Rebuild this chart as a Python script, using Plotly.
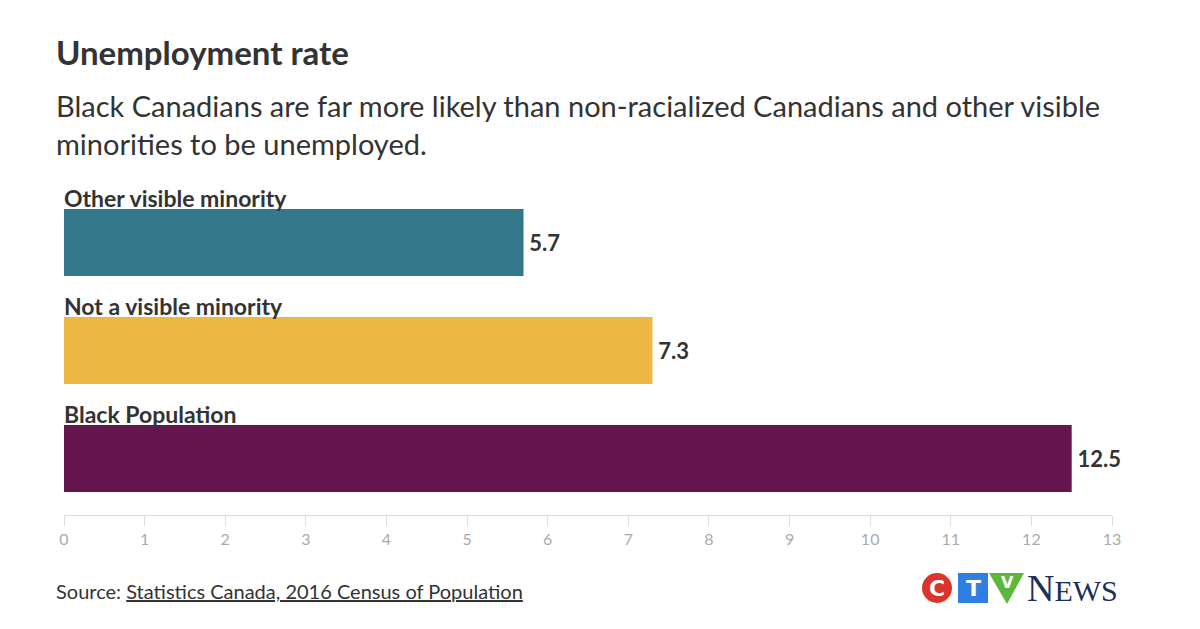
import plotly.graph_objects as go

categories = ["Black Population", "Not a visible minority", "Other visible minority"]
values = [12.5, 7.3, 5.7]
colors = ["#65154e", "#edb841", "#33788a"]
x_ticks = list(range(0, 14))

FONT = "Lato, 'Source Sans Pro', sans-serif"
OX, OY = 8, 8  # page body margin
W, H = 1192, 621
# target screen coordinates of the plot area
SL, SR, ST, SB = 64, 1112, 180, 515
L, T = SL - OX, ST - OY
R = W - (SR - OX)
B = H - (SB - OY)
PW, PH = SR - SL, SB - ST

def px(x):
    return (x - SL) / PW

def py(y):
    return (SB - y) / PH

fig = go.Figure()
fig.add_trace(go.Bar(
    y=list(range(len(categories))), x=values, orientation="h",
    marker=dict(color=colors, line=dict(width=0)), width=0.62,
    text=[f"\u2009<b>{v}</b>" for v in values], textposition="outside",
    textfont=dict(family=FONT, size=22, color="#333333"),
    cliponaxis=False, hoverinfo="skip",
))

annotations = []
for i, c in enumerate(categories):
    annotations.append(dict(x=0, y=i + 0.31, xref="x", yref="y", xanchor="left", yanchor="bottom",
                            text=f"<b>{c}</b>", showarrow=False, xshift=-2, yshift=-5,
                            font=dict(family=FONT, size=23, color="#333333")))

annotations += [
    dict(x=px(54), y=py(52), xref="paper", yref="paper", xanchor="left", yanchor="middle",
         text="<b>Unemployment rate</b>", showarrow=False,
         font=dict(family=FONT, size=33, color="#333333")),
    dict(x=px(54), y=py(106), xref="paper", yref="paper", xanchor="left", yanchor="middle",
         text="Black Canadians are far more likely than non-racialized Canadians and other visible",
         showarrow=False, font=dict(family=FONT, size=29, color="#333333")),
    dict(x=px(54), y=py(143), xref="paper", yref="paper", xanchor="left", yanchor="middle",
         text="minorities to be unemployed.",
         showarrow=False, font=dict(family=FONT, size=29, color="#333333")),
    dict(x=px(54), y=py(591), xref="paper", yref="paper", xanchor="left", yanchor="middle",
         text="Source: <u>Statistics Canada, 2016 Census of Population</u>",
         showarrow=False, font=dict(family=FONT, size=20, color="#333333")),
    # logo letters
    dict(x=px(937), y=py(588), xref="paper", yref="paper", xanchor="center", yanchor="middle",
         text="<b>C</b>", showarrow=False, font=dict(family="DejaVu Sans", size=22, color="white")),
    dict(x=px(973), y=py(588), xref="paper", yref="paper", xanchor="center", yanchor="middle",
         text="<b>T</b>", showarrow=False, font=dict(family="DejaVu Sans", size=22, color="white")),
    dict(x=px(1007), y=py(582), xref="paper", yref="paper", xanchor="center", yanchor="middle",
         text="<b>V</b>", showarrow=False, font=dict(family="DejaVu Sans", size=16, color="white")),
    dict(x=px(1025), y=py(588), xref="paper", yref="paper", xanchor="left", yanchor="middle",
         text="N<span style='font-size:30px'>EWS</span>", showarrow=False,
         font=dict(family="Liberation Serif", size=38, color="#1b2f5b")),
]

shapes = [
    dict(type="circle", xref="paper", yref="paper", x0=px(922), x1=px(952), y0=py(603), y1=py(573),
         fillcolor="#d9352a", line=dict(width=0)),
    dict(type="rect", xref="paper", yref="paper", x0=px(958), x1=px(988), y0=py(603), y1=py(573),
         fillcolor="#2f7fe0", line=dict(width=0)),
    dict(type="path", xref="paper", yref="paper",
         path=f"M {px(989)} {py(573)} L {px(1024)} {py(573)} L {px(1007)} {py(604)} Z",
         fillcolor="#5cb83a", line=dict(width=0)),
]

fig.update_layout(
    width=W, height=H, margin=dict(l=L, r=R, t=T, b=B),
    paper_bgcolor="white", plot_bgcolor="white", showlegend=False,
    annotations=annotations, shapes=shapes,
    xaxis=dict(range=[0, 13], tickvals=x_ticks, showgrid=False, zeroline=False,
               showline=True, linecolor="#dddddd", linewidth=1,
               ticks="outside", ticklen=10, tickcolor="#dddddd",
               tickfont=dict(family=FONT, size=16, color="#aaaaaa")),
    yaxis=dict(range=[-0.523, 2.579], showticklabels=False, showgrid=False, zeroline=False,
               showline=False, fixedrange=True),
)

fig.write_html("out.html")
